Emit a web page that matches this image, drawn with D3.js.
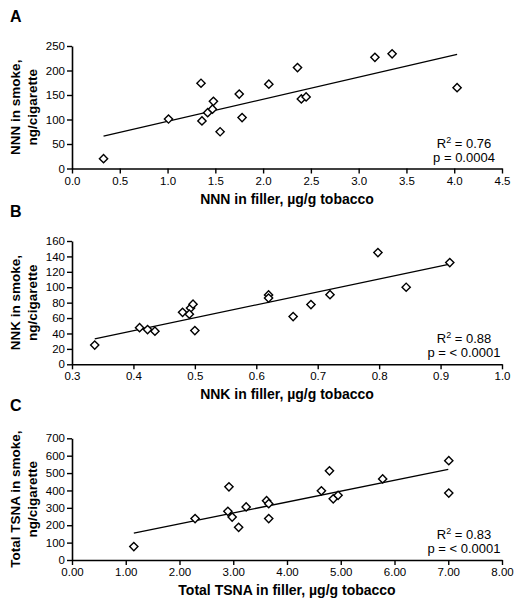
<!DOCTYPE html>
<html>
<head>
<meta charset="utf-8">
<script src="https://cdn.jsdelivr.net/npm/d3@7"></script>
<style>
  html, body { margin: 0; padding: 0; background: #fff; }
  svg { display: block; }
  text { font-family: Arial, "Liberation Sans", sans-serif; fill: #000; }
</style>
</head>
<body>
<svg id="chart" width="524" height="606"></svg>
<script>
// ---------- Data ----------
// Panel A: NNN
const nnnFiller = [0.33, 1.01, 1.35, 1.36, 1.42, 1.47, 1.48, 1.55, 1.75, 1.78, 2.06, 2.36, 2.40, 2.45, 3.17, 3.35, 4.03];
const nnnSmoke  = [20, 101, 174, 97, 114, 121, 137, 75, 152, 104, 172, 206, 142, 146, 227, 234, 165];
const nnnFitX = [0.33, 4.03];
const nnnFitY = [66, 233];
const nnnXTicks = [0, 0.5, 1.0, 1.5, 2.0, 2.5, 3.0, 3.5, 4.0, 4.5];
const nnnYTicks = [0, 50, 100, 150, 200, 250];
const nnnStats = ["0.76", "p = 0.0004"];

// Panel B: NNK
const nnkFiller = [0.337, 0.41, 0.423, 0.435, 0.48, 0.493, 0.491, 0.497, 0.50, 0.62, 0.62, 0.66, 0.689, 0.72, 0.798, 0.844, 0.915];
const nnkSmoke  = [25, 47.5, 45, 43, 67.5, 73, 65, 78, 43.7, 90, 86, 62, 77.5, 90.4, 145, 100, 132];
const nnkFitX = [0.337, 0.915];
const nnkFitY = [33, 130];
const nnkXTicks = [0.3, 0.4, 0.5, 0.6, 0.7, 0.8, 0.9, 1.0];
const nnkYTicks = [0, 20, 40, 60, 80, 100, 120, 140, 160];
const nnkStats = ["0.88", "p = < 0.0001"];

// Panel C: Total TSNA
const tsnaFiller = [1.15, 2.29, 2.92, 2.90, 2.98, 3.10, 3.24, 3.62, 3.66, 3.66, 4.64, 4.79, 4.86, 4.95, 5.78, 7.01, 7.01];
const tsnaSmoke  = [77, 238, 421, 280, 247, 188, 305, 341, 324, 238, 398, 513, 352, 372, 466, 571, 385];
const tsnaFitX = [1.15, 7.0];
const tsnaFitY = [155, 521];
const tsnaXTicks = [0, 1, 2, 3, 4, 5, 6, 7, 8];
const tsnaYTicks = [0, 100, 200, 300, 400, 500, 600, 700];
const tsnaStats = ["0.83", "p = < 0.0001"];

// ---------- Drawing ----------
const svg = d3.select("#chart");

const panels = [
  { letter: "A", x: nnnFiller, y: nnnSmoke, fx: nnnFitX, fy: nnnFitY,
    xTicks: nnnXTicks, yTicks: nnnYTicks, xFmt: d3.format(".1f"), stats: nnnStats,
    yTitle: ["NNN in smoke,", "ng/cigarette"], xTitle: "NNN in filler, \u00b5g/g tobacco",
    top: 46, bottom: 168.5, letterY: 22, xTitleY: 204 },
  { letter: "B", x: nnkFiller, y: nnkSmoke, fx: nnkFitX, fy: nnkFitY,
    xTicks: nnkXTicks, yTicks: nnkYTicks, xFmt: d3.format(".1f"), stats: nnkStats,
    yTitle: ["NNK in smoke,", "ng/cigarette"], xTitle: "NNK in filler, \u00b5g/g tobacco",
    top: 241, bottom: 364.3, letterY: 217, xTitleY: 399 },
  { letter: "C", x: tsnaFiller, y: tsnaSmoke, fx: tsnaFitX, fy: tsnaFitY,
    xTicks: tsnaXTicks, yTicks: tsnaYTicks, xFmt: d3.format(".2f"), stats: tsnaStats,
    yTitle: ["Total TSNA in smoke,", "ng/cigarette"], xTitle: "Total TSNA in filler, \u00b5g/g tobacco",
    top: 438.3, bottom: 560, letterY: 411, xTitleY: 595 }
];

const left = 72, right = 502;
const diamond = d3.symbol().type(d3.symbolSquare).size(34);

panels.forEach(p => {
  const xs = d3.scaleLinear().domain([p.xTicks[0], p.xTicks[p.xTicks.length - 1]]).range([left, right]);
  const ys = d3.scaleLinear().domain([p.yTicks[0], p.yTicks[p.yTicks.length - 1]]).range([p.bottom, p.top]);

  const g = svg.append("g");

  // panel letter
  g.append("text").attr("x", 10).attr("y", p.letterY)
    .attr("font-size", 16).attr("font-weight", "bold").text(p.letter);

  // axes
  const xAxis = d3.axisBottom(xs).tickValues(p.xTicks).tickFormat(p.xFmt).tickSize(5).tickSizeOuter(0).tickPadding(3);
  const yAxis = d3.axisLeft(ys).tickValues(p.yTicks).tickSize(5).tickSizeOuter(0).tickPadding(2);

  const gx = g.append("g").attr("transform", `translate(0,${p.bottom})`).call(xAxis);
  const gy = g.append("g").attr("transform", `translate(${left},0)`).call(yAxis);
  [gx, gy].forEach(a => {
    a.select(".domain").attr("stroke", "#000").attr("stroke-width", 1.6);
    a.selectAll(".tick line").attr("stroke", "#000").attr("stroke-width", 1.4);
    a.selectAll(".tick text").attr("font-size", 11.5).attr("fill", "#000")
      .attr("font-family", 'Arial, "Liberation Sans", sans-serif');
  });

  // fit line
  const fit = p.fx.map((v, i) => [v, p.fy[i]]);
  g.append("path").datum(fit)
    .attr("d", d3.line().x(d => xs(d[0])).y(d => ys(d[1])))
    .attr("fill", "none").attr("stroke", "#000").attr("stroke-width", 1.3);

  // points
  g.selectAll(".pt").data(p.x.map((v, i) => [v, p.y[i]])).join("path")
    .attr("d", diamond)
    .attr("transform", d => `translate(${xs(d[0])},${ys(d[1])}) rotate(45)`)
    .attr("fill", "#fff").attr("stroke", "#000").attr("stroke-width", 1.4);

  // stats text
  const cx = 464;
  const r = g.append("text").attr("x", cx).attr("y", p.bottom - 21)
    .attr("font-size", 13).attr("text-anchor", "middle");
  r.append("tspan").text("R");
  r.append("tspan").attr("dy", -5).attr("font-size", 9).text("2");
  r.append("tspan").attr("dy", 5).text(" = " + p.stats[0]);
  g.append("text").attr("x", cx).attr("y", p.bottom - 7)
    .attr("font-size", 13).attr("text-anchor", "middle").text(p.stats[1]);

  // x title
  g.append("text").attr("x", (left + right) / 2).attr("y", p.xTitleY)
    .attr("font-size", 14).attr("font-weight", "bold").attr("text-anchor", "middle").text(p.xTitle);

  // y title (two lines)
  const ycen = (p.top + p.bottom) / 2;
  const yt = g.append("text").attr("transform", `translate(0,${ycen}) rotate(-90)`)
    .attr("font-size", 13.5).attr("font-weight", "bold").attr("text-anchor", "middle");
  yt.append("tspan").attr("x", 0).attr("y", 20).text(p.yTitle[0]);
  yt.append("tspan").attr("x", 0).attr("y", 37).text(p.yTitle[1]);
});
</script>
</body>
</html>
